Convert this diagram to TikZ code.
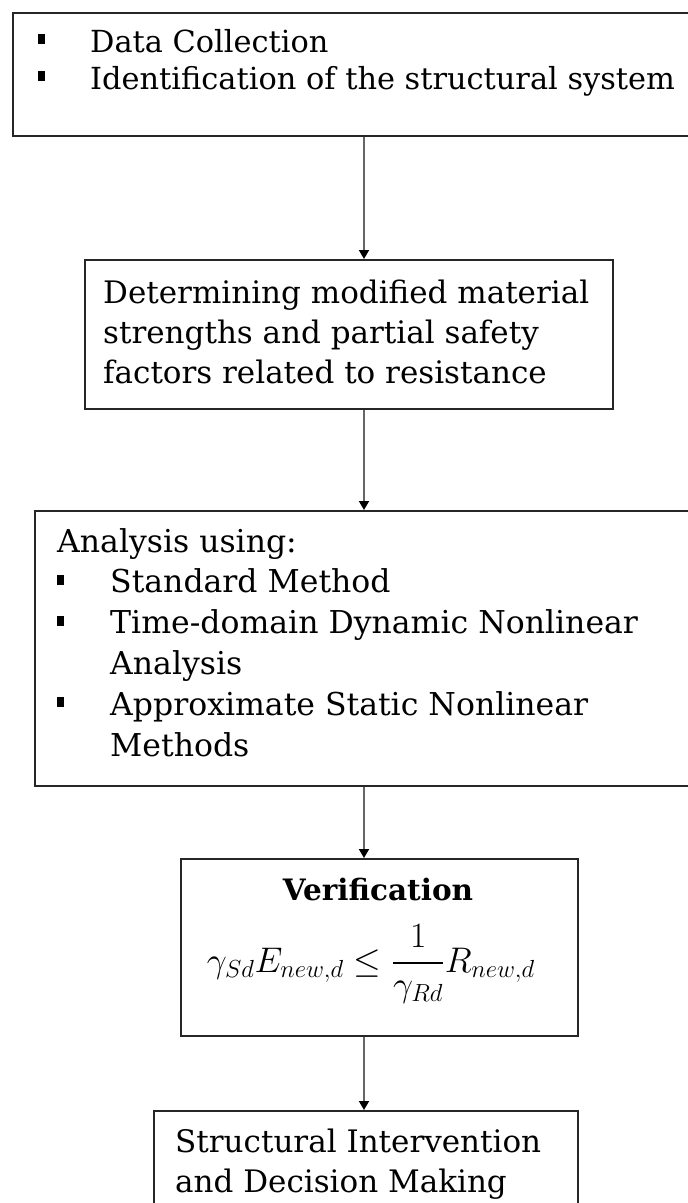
\documentclass[tikz,border=0pt]{standalone}
\usepackage{fontspec}
\usepackage{amsmath}
\usepackage{graphicx}
\setmainfont{DejaVu Serif}
\usetikzlibrary{arrows.meta}
\newcommand{\sqbul}{\rule[8pt]{7pt}{10pt}}
\tikzset{
  frame/.style={draw=black!85, line width=2.4pt, inner sep=0pt, anchor=north west},
  flow/.style={draw=black!60, line width=1.8pt, -{Triangle[length=9pt,width=10pt,color=black]}},
  txt/.style={inner sep=0pt, anchor=base west, font=\fontsize{31}{40}\selectfont},
}
\begin{document}
\begin{tikzpicture}[x=1pt,y=-1pt]
\useasboundingbox (0,0) rectangle (688,1203);
\fill[white] (0,0) rectangle (688,1203);
% boxes
\node[frame, minimum width=690pt, minimum height=123pt] (b1) at (12,12) {};
\node[frame, minimum width=528pt, minimum height=149pt] (b2) at (84,259) {};
\node[frame, minimum width=665pt, minimum height=275pt] (b3) at (34,510) {};
\node[frame, minimum width=397pt, minimum height=177pt] (b4) at (180,858) {};
\node[frame, minimum width=424pt, minimum height=120pt] (b5) at (153,1110) {};
% texts
\node[txt, font=\fontsize{30.4}{37}\selectfont] (t1) at (38,52) {\begin{tabular}[t]{@{}p{52pt}@{}l@{}}
\sqbul & Data Collection\\
\sqbul & Identification of the structural system
\end{tabular}};
\node[txt] (t2) at (103,303) {\begin{tabular}[t]{@{}l@{}}Determining modified material\\strengths and partial safety\\factors related to resistance\end{tabular}};
\node[txt, font=\fontsize{31.5}{40.8}\selectfont] (t3) at (57,552) {\begin{tabular}[t]{@{}p{53pt}@{}l@{}}
\multicolumn{2}{@{}l@{}}{Analysis using:}\\
\sqbul & Standard Method\\
\sqbul & Time-domain Dynamic Nonlinear\\
 & Analysis\\
\sqbul & Approximate Static Nonlinear\\
 & Methods
\end{tabular}};
\node[inner sep=0pt, anchor=base, font=\fontsize{29.5}{34}\selectfont\bfseries] (t4) at (378,900) {Verification};
\node[inner sep=0pt, anchor=base, font=\fontsize{24}{30}\selectfont] (f4) at (371,972) {\scalebox{1.43}{$\gamma_{Sd}E_{new,d}\le\dfrac{1}{\gamma_{Rd}}R_{new,d}$}};
\node[txt] (t5) at (175,1152) {\begin{tabular}[t]{@{}l@{}}Structural Intervention\\and Decision Making\end{tabular}};
% connectors
\draw[flow] (b1.south -| 364,0) -- (b2.north -| 364,0);
\draw[flow] (b2.south -| 364,0) -- (b3.north -| 364,0);
\draw[flow] (b3.south -| 364,0) -- (b4.north -| 364,0);
\draw[flow] (b4.south -| 364,0) -- (b5.north -| 364,0);
\end{tikzpicture}
\end{document}
